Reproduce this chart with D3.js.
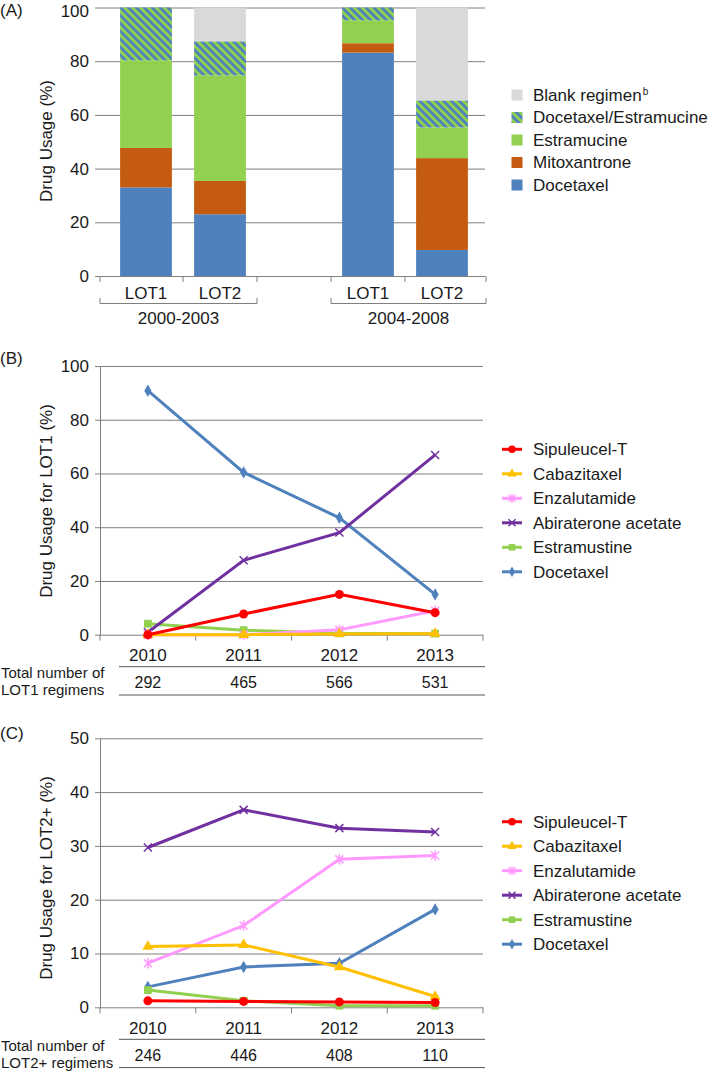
<!DOCTYPE html>
<html>
<head>
<meta charset="utf-8">
<script src="https://cdn.jsdelivr.net/npm/d3@7"></script>
<style>
body { margin: 0; background: #fff; }
text { font-family: "Liberation Sans", Arial, Helvetica, sans-serif; fill: #1a1a1a; }
</style>
</head>
<body>
<script>
// ---- data: panel A (stacked bars) ----
const barGroups = ['2000-2003', '2004-2008'];
const barLots = ['LOT1', 'LOT2'];
const barKeys = ['Docetaxel', 'Mitoxantrone', 'Estramucine', 'Docetaxel/Estramucine', 'Blank regimen'];
const docetaxelA = [33.0, 23.0, 83.2, 9.7];
const mitoxantroneA = [14.7, 12.4, 3.5, 34.2];
const estramucineA = [32.6, 39.3, 8.5, 11.4];
const docEstA = [19.7, 12.7, 4.8, 10.1];
const blankA = [0, 12.6, 0, 34.6];
const barTicks = [0, 20, 40, 60, 80, 100];

// ---- data: panels B and C (lines) ----
const years = ['2010', '2011', '2012', '2013'];
const drugs = ['Sipuleucel-T', 'Cabazitaxel', 'Enzalutamide', 'Abiraterone acetate', 'Estramustine', 'Docetaxel'];
const lot1Sipuleucel = [0, 7.7, 15.0, 8.2];
const lot1Cabazitaxel = [0, 0, 0.3, 0.4];
const lot1Enzalutamide = [0, 0, 1.8, 8.9];
const lot1Abiraterone = [0.9, 27.7, 38.0, 66.9];
const lot1Estramustine = [4.1, 1.7, 0.5, 0.4];
const lot1Docetaxel = [90.8, 60.4, 43.5, 15.0];
const lot1Totals = [292, 465, 566, 531];
const lot1Ticks = [0, 20, 40, 60, 80, 100];

const lot2Sipuleucel = [1.2, 1.1, 1.0, 0.9];
const lot2Cabazitaxel = [11.3, 11.6, 7.5, 2.0];
const lot2Enzalutamide = [8.2, 15.2, 27.5, 28.2];
const lot2Abiraterone = [29.7, 36.7, 33.3, 32.6];
const lot2Estramustine = [3.2, 1.2, 0.3, 0.3];
const lot2Docetaxel = [3.8, 7.5, 8.2, 18.2];
const lot2Totals = [246, 446, 408, 110];
const lot2Ticks = [0, 10, 20, 30, 40, 50];

const barColors = {
    'Docetaxel': '#4F81BD',
    'Mitoxantrone': '#C55A11',
    'Estramucine': '#92D050',
    'Docetaxel/Estramucine': 'url(#hatch)',
    'Blank regimen': '#D9D9D9'
};
const drugStyle = {
    'Sipuleucel-T': { color: '#FF0000', marker: 'circle' },
    'Cabazitaxel': { color: '#FFC000', marker: 'triangle' },
    'Enzalutamide': { color: '#FF99FF', marker: 'asterisk' },
    'Abiraterone acetate': { color: '#7030A0', marker: 'x' },
    'Estramustine': { color: '#92D050', marker: 'square' },
    'Docetaxel': { color: '#4F81BD', marker: 'diamond' }
};

const FS = 17;
const gridColor = '#7f7f7f';

const svg = d3.select('body').append('svg')
    .attr('width', 709)
    .attr('height', 1073);

const defs = svg.append('defs');
const pat = defs.append('pattern')
    .attr('id', 'hatch')
    .attr('patternUnits', 'userSpaceOnUse')
    .attr('width', 5.6)
    .attr('height', 5.6)
    .attr('patternTransform', 'rotate(-45)');
pat.append('rect').attr('width', 5.6).attr('height', 5.6).attr('fill', '#92D050');
pat.append('rect').attr('width', 2.8).attr('height', 5.6).attr('fill', '#4F81BD');

function markerPath(type, r) {
    if (type === 'circle') return d3.symbol(d3.symbolCircle, Math.PI * r * r)();
    if (type === 'triangle') return d3.symbol(d3.symbolTriangle, r * r * 2.6)();
    if (type === 'square') return d3.symbol(d3.symbolSquare, r * r * 3)();
    if (type === 'diamond') return d3.symbol(d3.symbolDiamond, r * r * 2.2)();
    if (type === 'x') return `M${-r},${-r}L${r},${r}M${-r},${r}L${r},${-r}`;
    return `M${-r},${-r}L${r},${r}M${-r},${r}L${r},${-r}M0,${-r * 1.3}L0,${r * 1.3}`;
}
const strokeMarker = t => t === 'x' || t === 'asterisk';

function panelLabel(txt, y) {
    svg.append('text').attr('x', 0).attr('y', y).attr('font-size', FS).text(txt);
}

function yAxisLabel(txt, cx, cy) {
    svg.append('text')
        .attr('transform', `translate(${cx},${cy}) rotate(-90)`)
        .attr('text-anchor', 'middle')
        .attr('dy', '0.35em')
        .attr('font-size', FS)
        .text(txt);
}

function styleGrid(g) {
    g.selectAll('.tick line').attr('stroke', gridColor).attr('x1', -5);
    g.selectAll('.tick text').attr('font-size', FS).attr('fill', '#1a1a1a')
        .attr('font-family', '"Liberation Sans", Arial, Helvetica, sans-serif');
}

// ================= Panel A =================
panelLabel('(A)', 16);
const slots = [];
barGroups.forEach((g, i) => {
    if (i > 0) slots.push('gap' + i);
    barLots.forEach(l => slots.push(g + ' ' + l));
});
const rowsA = docetaxelA.map((d, i) => ({
    slot: slots.filter(s => !s.startsWith('gap'))[i],
    'Docetaxel': d,
    'Mitoxantrone': mitoxantroneA[i],
    'Estramucine': estramucineA[i],
    'Docetaxel/Estramucine': docEstA[i],
    'Blank regimen': blankA[i]
}));

const xA = d3.scaleBand().domain(slots).range([109, 479]).paddingInner(0.3).paddingOuter(0.15);
const yA = d3.scaleLinear().domain([0, 100]).range([276, 7.5]);
const axisLeftA = 100, axisRightA = 486;

const gA = svg.append('g').attr('transform', `translate(${axisLeftA},0)`)
    .call(d3.axisLeft(yA).tickValues(barTicks).tickSize(-(axisRightA - axisLeftA - 1)).tickPadding(11));
gA.select('.domain').remove();
styleGrid(gA);
// keep the top label inside the picture
gA.selectAll('.tick text').filter(d => d === 100).attr('dy', '0.55em');

const stackA = d3.stack().keys(barKeys)(rowsA);
svg.append('g').selectAll('g')
    .data(stackA)
    .enter()
    .append('g')
    .attr('fill', d => barColors[d.key])
    .selectAll('rect')
    .data(d => d)
    .enter()
    .append('rect')
    .attr('x', d => xA(d.data.slot))
    .attr('width', xA.bandwidth())
    .attr('y', d => yA(d[1]))
    .attr('height', d => yA(d[0]) - yA(d[1]));

// category ticks and brackets
const bounds = slots.map(s => xA(s) - xA.step() * xA.paddingInner() / 2);
bounds[0] = axisLeftA;
bounds.push(axisRightA);
svg.append('g').selectAll('line')
    .data(bounds)
    .enter()
    .append('line')
    .attr('x1', d => d).attr('x2', d => d)
    .attr('y1', yA(0)).attr('y2', yA(0) + 6)
    .attr('stroke', gridColor);

svg.append('g').selectAll('text')
    .data(rowsA)
    .enter()
    .append('text')
    .attr('x', d => xA(d.slot) + xA.bandwidth() / 2)
    .attr('y', 299)
    .attr('text-anchor', 'middle')
    .attr('font-size', FS)
    .text(d => d.slot.split(' ')[1]);

barGroups.forEach((g, i) => {
    const i0 = slots.indexOf(g + ' ' + barLots[0]);
    const i1 = slots.indexOf(g + ' ' + barLots[barLots.length - 1]);
    const x0 = bounds[i0], x1 = bounds[i1 + 1];
    svg.append('path')
        .attr('d', `M${x0},298V303.5H${x1}V298`)
        .attr('fill', 'none')
        .attr('stroke', gridColor);
    svg.append('text')
        .attr('x', (x0 + x1) / 2)
        .attr('y', 324)
        .attr('text-anchor', 'middle')
        .attr('font-size', FS)
        .text(g);
});

yAxisLabel('Drug Usage (%)', 46, 141);

// legend A
const legA = svg.append('g').selectAll('g')
    .data(barKeys.slice().reverse())
    .enter()
    .append('g')
    .attr('transform', (d, i) => `translate(511.5,${95 + i * 22.5})`);
legA.append('rect')
    .attr('x', 0).attr('y', -5.5)
    .attr('width', 11).attr('height', 11)
    .attr('fill', d => barColors[d]);
legA.append('text')
    .attr('x', 21.5)
    .attr('dy', '0.35em')
    .attr('font-size', FS)
    .each(function(d) {
        const t = d3.select(this);
        if (d === 'Blank regimen') {
            t.append('tspan').text(d);
            t.append('tspan').attr('dy', -6).attr('dx', 1).attr('font-size', 10).text('b');
        } else {
            t.text(d);
        }
    });

// ================= Panels B / C =================
function linePanel(cfg) {
    const x = d3.scaleBand().domain(years).range([100, 483]);
    const y = d3.scaleLinear().domain([0, cfg.max]).range([cfg.bottom, cfg.top]);

    const g = svg.append('g').attr('transform', 'translate(100,0)')
        .call(d3.axisLeft(y).tickValues(cfg.ticks).tickSize(-383).tickSizeOuter(0).tickPadding(11));
    g.select('.domain').attr('stroke', gridColor);
    styleGrid(g);

    // ticks under the axis
    svg.append('g').selectAll('line')
        .data(d3.range(years.length + 1))
        .enter()
        .append('line')
        .attr('x1', k => 100 + k * x.step()).attr('x2', k => 100 + k * x.step())
        .attr('y1', cfg.bottom).attr('y2', cfg.bottom + 6)
        .attr('stroke', gridColor);

    svg.append('g').selectAll('text')
        .data(years)
        .enter()
        .append('text')
        .attr('x', d => x(d) + x.bandwidth() / 2)
        .attr('y', cfg.bottom + 26.5)
        .attr('text-anchor', 'middle')
        .attr('font-size', FS)
        .text(d => d);

    // totals table
    [32, 60.3].forEach(dy => {
        svg.append('line')
            .attr('x1', 119).attr('x2', 485)
            .attr('y1', cfg.bottom + dy).attr('y2', cfg.bottom + dy)
            .attr('stroke', '#555');
    });
    svg.append('g').selectAll('text')
        .data(cfg.totals)
        .enter()
        .append('text')
        .attr('x', (d, i) => x(years[i]) + x.bandwidth() / 2)
        .attr('y', cfg.bottom + 53.5)
        .attr('text-anchor', 'middle')
        .attr('font-size', 16)
        .text(d => d);
    svg.append('text').attr('x', 1).attr('y', cfg.bottom + 43.5).attr('font-size', 15).text('Total number of');
    svg.append('text').attr('x', 1).attr('y', cfg.bottom + 60.5).attr('font-size', 15).text(cfg.rowLabel);

    // series, drawn last-legend-first so Sipuleucel-T sits on top
    const line = d3.line().x((d, i) => x(years[i]) + x.bandwidth() / 2).y(d => y(d));
    drugs.slice().reverse().forEach(name => {
        const st = drugStyle[name];
        const vals = cfg.series[name];
        svg.append('path')
            .attr('d', line(vals))
            .attr('fill', 'none')
            .attr('stroke', st.color)
            .attr('stroke-width', 3);
        svg.append('g').selectAll('path')
            .data(vals)
            .enter()
            .append('path')
            .attr('transform', (d, i) => `translate(${x(years[i]) + x.bandwidth() / 2},${y(d)})`)
            .attr('d', markerPath(st.marker, strokeMarker(st.marker) ? 4 : 4.5))
            .attr('fill', strokeMarker(st.marker) ? 'none' : st.color)
            .attr('stroke', strokeMarker(st.marker) ? st.color : 'none')
            .attr('stroke-width', 1.5);
    });

    yAxisLabel(cfg.yLabel, 46, cfg.labelY);

    // legend
    const leg = svg.append('g').selectAll('g')
        .data(drugs)
        .enter()
        .append('g')
        .attr('transform', (d, i) => `translate(502,${cfg.legendY + i * 24.5})`);
    leg.append('line')
        .attr('x1', 0).attr('x2', 20)
        .attr('stroke', d => drugStyle[d].color)
        .attr('stroke-width', 3);
    leg.append('path')
        .attr('transform', 'translate(10,0)')
        .attr('d', d => markerPath(drugStyle[d].marker, strokeMarker(drugStyle[d].marker) ? 3.5 : 3.8))
        .attr('fill', d => strokeMarker(drugStyle[d].marker) ? 'none' : drugStyle[d].color)
        .attr('stroke', d => strokeMarker(drugStyle[d].marker) ? drugStyle[d].color : 'none')
        .attr('stroke-width', 1.5);
    leg.append('text')
        .attr('x', 31)
        .attr('dy', '0.35em')
        .attr('font-size', FS)
        .text(d => d);
}

panelLabel('(B)', 364);
linePanel({
    max: 100, ticks: lot1Ticks, top: 366, bottom: 634.7,
    totals: lot1Totals, rowLabel: 'LOT1 regimens',
    yLabel: 'Drug Usage for LOT1 (%)', labelY: 501, legendY: 449.3,
    series: {
        'Sipuleucel-T': lot1Sipuleucel,
        'Cabazitaxel': lot1Cabazitaxel,
        'Enzalutamide': lot1Enzalutamide,
        'Abiraterone acetate': lot1Abiraterone,
        'Estramustine': lot1Estramustine,
        'Docetaxel': lot1Docetaxel
    }
});

panelLabel('(C)', 739);
linePanel({
    max: 50, ticks: lot2Ticks, top: 738.3, bottom: 1007.3,
    totals: lot2Totals, rowLabel: 'LOT2+ regimens',
    yLabel: 'Drug Usage for LOT2+ (%)', labelY: 878, legendY: 821.7,
    series: {
        'Sipuleucel-T': lot2Sipuleucel,
        'Cabazitaxel': lot2Cabazitaxel,
        'Enzalutamide': lot2Enzalutamide,
        'Abiraterone acetate': lot2Abiraterone,
        'Estramustine': lot2Estramustine,
        'Docetaxel': lot2Docetaxel
    }
});
</script>
</body>
</html>
